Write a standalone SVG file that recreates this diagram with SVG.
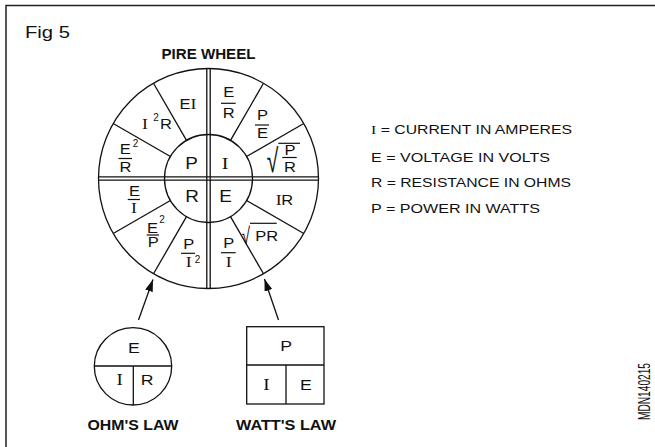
<svg xmlns="http://www.w3.org/2000/svg" width="655" height="447" viewBox="0 0 655 447">
<style>
.ln{stroke:#111;stroke-width:1.3;fill:none}
.bar{stroke:#111;stroke-width:1.2}
.s{font-family:"Liberation Sans",Arial,sans-serif;fill:#111}
.r{font-family:"Liberation Serif","Times New Roman",serif;fill:#111}
.w{transform-box:fill-box;transform-origin:50% 50%;transform:scaleX(1.18)}
.b{font-family:"Liberation Sans",Arial,sans-serif;font-weight:bold;fill:#111}
</style>
<defs>
<marker id="ah" markerWidth="12" markerHeight="8" refX="12" refY="4" orient="auto" markerUnits="userSpaceOnUse">
<path d="M0,0 L12,4 L0,8 Z" fill="#111"/>
</marker>
</defs>
<rect width="655" height="447" fill="#fff"/>
<path d="M6,447 V5.5 H655" stroke="#222" stroke-width="1.5" fill="none"/>
<text class="s" x="25" y="38.3" font-size="16" textLength="45" lengthAdjust="spacingAndGlyphs">Fig 5</text>

<g id="wheel">
<text class="b" x="208.5" y="59.3" font-size="14" text-anchor="middle" textLength="94" lengthAdjust="spacingAndGlyphs">PIRE WHEEL</text>
<circle class="ln" cx="208.5" cy="178.5" r="110"/>
<circle class="ln" cx="208.5" cy="178.5" r="44"/>
<line class="ln" x1="206.8" y1="68.5" x2="206.8" y2="288.5"/>
<line class="ln" x1="210.2" y1="68.5" x2="210.2" y2="288.5"/>
<line class="ln" x1="98.5" y1="176.8" x2="318.5" y2="176.8"/>
<line class="ln" x1="98.5" y1="180.2" x2="318.5" y2="180.2"/>
<line class="ln" x1="170.4" y1="156.5" x2="113.2" y2="123.5"/>
<line class="ln" x1="186.5" y1="140.4" x2="153.5" y2="83.2"/>
<line class="ln" x1="246.6" y1="156.5" x2="303.8" y2="123.5"/>
<line class="ln" x1="230.5" y1="140.4" x2="263.5" y2="83.2"/>
<line class="ln" x1="170.4" y1="200.5" x2="113.2" y2="233.5"/>
<line class="ln" x1="186.5" y1="216.6" x2="153.5" y2="273.8"/>
<line class="ln" x1="246.6" y1="200.5" x2="303.8" y2="233.5"/>
<line class="ln" x1="230.5" y1="216.6" x2="263.5" y2="273.8"/>
</g>

<g id="inner-P"><text class="s w" x="191.5" y="169.5" font-size="16" text-anchor="middle">P</text></g>
<g id="inner-I"><text class="r w" x="225" y="169" font-size="17" text-anchor="middle">I</text></g>
<g id="inner-R"><text class="s w" x="192" y="202" font-size="16" text-anchor="middle">R</text></g>
<g id="inner-E"><text class="s w" x="225.5" y="201.7" font-size="16" text-anchor="middle">E</text></g>

<g id="seg-EI">
<text class="w" x="188" y="109.3" text-anchor="middle"><tspan class="s" font-size="14">E</tspan><tspan class="r" font-size="15">I</tspan></text>
</g>
<g id="seg-I2R">
<text class="r w" x="145" y="129.3" font-size="15" text-anchor="middle">I</text>
<text class="s" x="156" y="121" font-size="10" text-anchor="middle">2</text>
<text class="s w" x="166" y="129.3" font-size="14" text-anchor="middle">R</text>
</g>
<g id="seg-E2R">
<text class="s w" x="125.3" y="154.3" font-size="14" text-anchor="middle">E</text>
<text class="s" x="135.5" y="147.3" font-size="10" text-anchor="middle">2</text>
<line class="bar" x1="118.5" y1="158.5" x2="132" y2="158.5"/>
<text class="s w" x="125.5" y="171.7" font-size="14" text-anchor="middle">R</text>
</g>
<g id="seg-ER">
<text class="s w" x="228.8" y="97.3" font-size="14" text-anchor="middle">E</text>
<line class="bar" x1="221" y1="103.3" x2="235.7" y2="103.3"/>
<text class="s w" x="228.8" y="118.3" font-size="14" text-anchor="middle">R</text>
</g>
<g id="seg-PE">
<text class="s w" x="262.5" y="120" font-size="14" text-anchor="middle">P</text>
<line class="bar" x1="255" y1="125" x2="269" y2="125"/>
<text class="s w" x="262.5" y="138.3" font-size="14" text-anchor="middle">E</text>
</g>
<g id="seg-sqrtPR-frac">
<text class="s" transform="translate(272.5,172) scale(0.64,1)" font-size="33" text-anchor="middle">√</text>
<line class="bar" x1="278.3" y1="143.3" x2="300" y2="143.3"/>
<text class="s w" x="290" y="155.5" font-size="14" text-anchor="middle">P</text>
<line class="bar" x1="282.3" y1="157.5" x2="296.7" y2="157.5"/>
<text class="s w" x="290" y="171.7" font-size="14" text-anchor="middle">R</text>
</g>
<g id="seg-EI-frac">
<text class="s w" x="134.5" y="196" font-size="14" text-anchor="middle">E</text>
<line class="bar" x1="127.7" y1="199.5" x2="140" y2="199.5"/>
<text class="r w" x="134" y="213.3" font-size="15" text-anchor="middle">I</text>
</g>
<g id="seg-E2P">
<text class="s w" x="152.5" y="232.7" font-size="14" text-anchor="middle">E</text>
<text class="s" x="162" y="223.3" font-size="10" text-anchor="middle">2</text>
<line class="bar" x1="146.7" y1="235" x2="159" y2="235"/>
<text class="s w" x="153.3" y="247.3" font-size="14" text-anchor="middle">P</text>
</g>
<g id="seg-PI2">
<text class="s w" x="188.8" y="249.3" font-size="14" text-anchor="middle">P</text>
<line class="bar" x1="181" y1="253.3" x2="195" y2="253.3"/>
<text class="r w" x="188.8" y="267.3" font-size="15" text-anchor="middle">I</text>
<text class="s" x="197.5" y="263.3" font-size="10" text-anchor="middle">2</text>
</g>
<g id="seg-IR">
<text class="r w" x="278.8" y="205" font-size="15" text-anchor="middle">I</text>
<text class="s w" x="287.3" y="205" font-size="14" text-anchor="middle">R</text>
</g>
<g id="seg-sqrtPR">
<text class="s" transform="translate(245.8,243.5) scale(0.64,1)" font-size="23.5" text-anchor="middle">√</text>
<line class="bar" x1="250" y1="223.3" x2="276.7" y2="223.3"/>
<text class="s w" x="266.7" y="240.7" font-size="14" text-anchor="middle">PR</text>
</g>
<g id="seg-PI">
<text class="s w" x="228.8" y="248.3" font-size="14" text-anchor="middle">P</text>
<line class="bar" x1="221" y1="252.7" x2="235.7" y2="252.7"/>
<text class="r w" x="228.8" y="267.3" font-size="15" text-anchor="middle">I</text>
</g>

<g id="legend">
<text x="371" y="134.3" font-size="13" textLength="201" lengthAdjust="spacingAndGlyphs"><tspan class="r">I</tspan><tspan class="s"> = CURRENT IN AMPERES</tspan></text>
<text class="s" x="371" y="161.7" font-size="13" textLength="179" lengthAdjust="spacingAndGlyphs">E = VOLTAGE IN VOLTS</text>
<text class="s" x="371" y="187.3" font-size="13" textLength="200" lengthAdjust="spacingAndGlyphs">R = RESISTANCE IN OHMS</text>
<text class="s" x="371" y="213.3" font-size="13" textLength="169" lengthAdjust="spacingAndGlyphs">P = POWER IN WATTS</text>
</g>

<g id="ohms-law">
<circle class="ln" cx="133" cy="366.3" r="38.7"/>
<line class="ln" x1="94.3" y1="366" x2="171.7" y2="366"/>
<line class="ln" x1="133.3" y1="366" x2="133.3" y2="405"/>
<text class="s w" x="133.8" y="352.7" font-size="15" text-anchor="middle">E</text>
<text class="r w" x="119.7" y="385.5" font-size="16" text-anchor="middle">I</text>
<text class="s w" x="147.2" y="385.5" font-size="15" text-anchor="middle">R</text>
<text class="b" x="133" y="430" font-size="15" text-anchor="middle" textLength="91" lengthAdjust="spacingAndGlyphs">OHM'S LAW</text>
</g>

<g id="watts-law">
<rect class="ln" x="246.7" y="326.7" width="77.3" height="77.3"/>
<line class="ln" x1="246.7" y1="365" x2="324" y2="365"/>
<line class="ln" x1="286" y1="365" x2="286" y2="404"/>
<text class="s w" x="286.2" y="350.7" font-size="15" text-anchor="middle">P</text>
<text class="r w" x="266.5" y="390" font-size="16" text-anchor="middle">I</text>
<text class="s w" x="305.8" y="390" font-size="15" text-anchor="middle">E</text>
<text class="b" x="286" y="429.5" font-size="15" text-anchor="middle" textLength="100" lengthAdjust="spacingAndGlyphs">WATT'S LAW</text>
</g>

<g id="connectors">
<line class="ln" x1="138.5" y1="320" x2="153" y2="279.5" marker-end="url(#ah)"/>
<line class="ln" x1="278.5" y1="320" x2="264.5" y2="279" marker-end="url(#ah)"/>
</g>

<text class="s" transform="translate(650,420) rotate(-90)" font-size="16" textLength="57" lengthAdjust="spacingAndGlyphs">MDN140215</text>
</svg>
